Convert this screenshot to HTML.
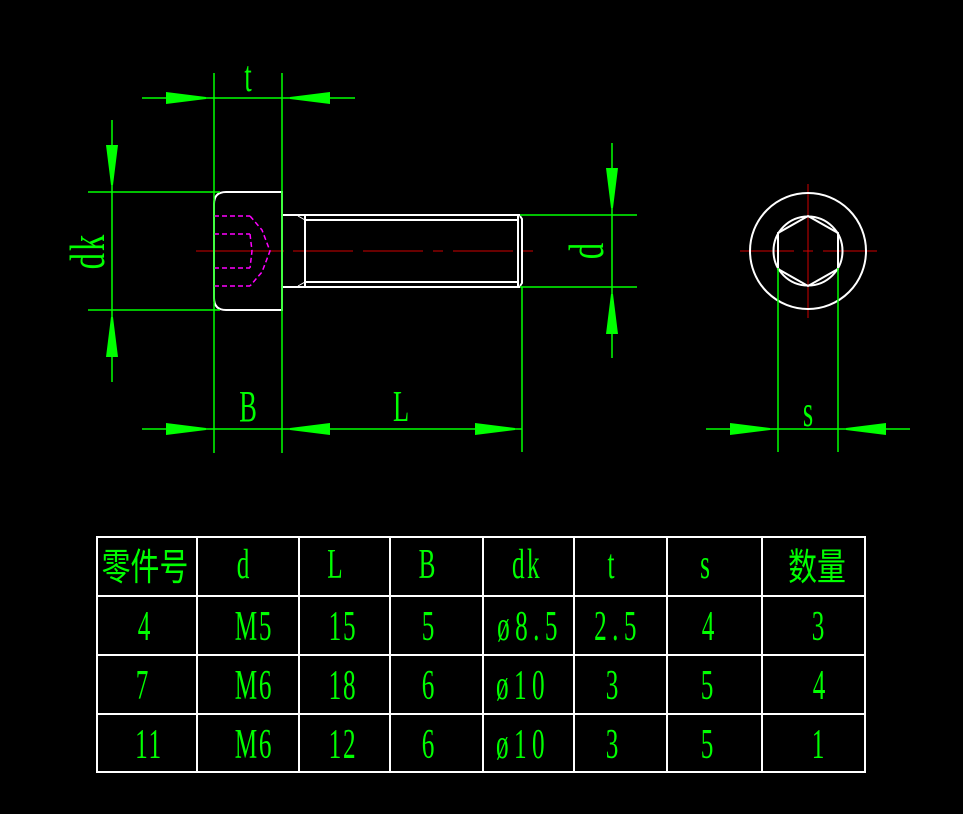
<!DOCTYPE html>
<html><head><meta charset="utf-8"><style>
html,body{margin:0;padding:0;background:#000;}
svg{display:block}
text{font-family:"Liberation Serif","Noto Serif CJK SC",serif;fill:#00ff00;}
.c{font-family:"Liberation Serif","Noto Sans CJK SC",sans-serif;}
</style></head><body>
<svg width="963" height="814" viewBox="0 0 963 814" xmlns="http://www.w3.org/2000/svg">
<rect width="963" height="814" fill="#000"/>
<g stroke="#d00000" stroke-width="1">
<line x1="196" y1="251" x2="284" y2="251"/>
<line x1="293" y1="251" x2="354" y2="251" stroke-dasharray="60 10 10 10"/>
<line x1="363" y1="251" x2="540" y2="251" stroke-dasharray="60 10 10 10"/>
<line x1="808" y1="184" x2="808" y2="318"/>
<line x1="740" y1="251" x2="794" y2="251"/>
<line x1="823" y1="251" x2="877" y2="251"/>
<line x1="803" y1="251" x2="813" y2="251"/>
</g>
<g stroke="#fff" stroke-width="2" fill="none">
<path d="M282 192 H226 Q214 192 214 204 V298 Q214 310 226 310 H282 Z"/>
<path d="M282 215 H520 M282 287 H520"/>
<path d="M305 220 H518 M305 282 H518"/>
<line x1="305" y1="216" x2="305" y2="286"/>
<line x1="518" y1="216" x2="518" y2="286"/>
<path d="M520 216 L522 219 V283 L520 286"/>
<path d="M298 216 L305 220 M298 286 L305 282" stroke-width="1"/>
<circle cx="808" cy="251" r="58"/>
<circle cx="808" cy="251" r="34.5"/>
<polygon points="808,216 838,233 838,269 808,286 778,269 778,233"/>
</g>
<g stroke="#ff00ff" stroke-width="1.5" fill="none" stroke-dasharray="5 3">
<path d="M214 216 H250 M214 234 H250 M214 268 H250 M214 286 H250"/>
<path d="M250 216 L262 230 L270 251 L262 272 L250 286"/>
<path d="M250 234 L252 251 L250 268"/>
</g>
<g stroke="#00ff00" stroke-width="1.5">
<line x1="142" y1="98" x2="355" y2="98"/>
<line x1="214" y1="73" x2="214" y2="453"/>
<line x1="282" y1="73" x2="282" y2="453"/>
<line x1="112" y1="120" x2="112" y2="382"/>
<line x1="88" y1="192" x2="220" y2="192"/>
<line x1="88" y1="310" x2="220" y2="310"/>
<line x1="612" y1="143" x2="612" y2="358"/>
<line x1="520" y1="215" x2="637" y2="215"/>
<line x1="520" y1="287" x2="637" y2="287"/>
<line x1="142" y1="429" x2="522" y2="429"/>
<line x1="522" y1="287" x2="522" y2="452"/>
<line x1="706" y1="429" x2="910" y2="429"/>
<line x1="778" y1="268" x2="778" y2="452"/>
<line x1="838" y1="268" x2="838" y2="452"/>
</g>
<g fill="#00ff00">
<polygon points="166,92 206,97 206,99 166,104"/>
<polygon points="330,92 290,97 290,99 330,104"/>
<polygon points="106,145 111,185 113,185 118,145"/>
<polygon points="106,357 111,317 113,317 118,357"/>
<polygon points="606,168 611,208 613,208 618,168"/>
<polygon points="606,334 611,294 613,294 618,334"/>
<polygon points="166,423 206,428 206,430 166,435"/>
<polygon points="330,423 290,428 290,430 330,435"/>
<polygon points="475,423 515,428 515,430 475,435"/>
<polygon points="730,423 770,428 770,430 730,435"/>
<polygon points="886,423 846,428 846,430 886,435"/>
</g>
<g font-size="44" text-anchor="middle">
<text transform="translate(248,91) scale(0.6,1)">t</text>
<text transform="translate(248,421) scale(0.6,1)">B</text>
<text transform="translate(401,421) scale(0.6,1)">L</text>
<text transform="translate(808,426) scale(0.6,1)">s</text>
<text font-size="50" letter-spacing="3" transform="translate(104,251) rotate(-90) scale(0.65,1)">dk</text>
<text font-size="50" transform="translate(603,251) rotate(-90) scale(0.65,1)">d</text>
</g>
<g stroke="#fff" stroke-width="2" fill="none">
<rect x="97" y="537" width="768" height="235"/>
<path d="M97 596 H865 M97 655 H865 M97 714 H865"/>
<path d="M197 537 V772 M299 537 V772 M390 537 V772 M483 537 V772 M574 537 V772 M667 537 V772 M762 537 V772"/>
</g>
<g font-size="42" text-anchor="middle">
<text class="c" font-size="34" transform="translate(145,580) scale(0.85,1.1)">零件号</text>
<text class="c" font-size="34" transform="translate(817,580) scale(0.85,1.1)">数量</text>
<text transform="translate(243,578) scale(0.6,1)">d</text>
<text transform="translate(335,578) scale(0.6,1)">L</text>
<text transform="translate(427,578) scale(0.6,1)">B</text>
<text letter-spacing="4" transform="translate(527,578) scale(0.6,1)">dk</text>
<text transform="translate(611,578) scale(0.6,1)">t</text>
<text transform="translate(705,578) scale(0.6,1)">s</text>

<text transform="translate(144,640) scale(0.6,1)">4</text>
<text letter-spacing="3" transform="translate(254,640) scale(0.6,1)">M5</text>
<text letter-spacing="3" transform="translate(343,640) scale(0.6,1)">15</text>
<text transform="translate(428,640) scale(0.6,1)">5</text>
<text letter-spacing="9" transform="translate(530,640) scale(0.6,1)">ø8.5</text>
<text letter-spacing="9" transform="translate(618,640) scale(0.6,1)">2.5</text>
<text transform="translate(708,640) scale(0.6,1)">4</text>
<text transform="translate(818,640) scale(0.6,1)">3</text>

<text transform="translate(142,699) scale(0.6,1)">7</text>
<text letter-spacing="3" transform="translate(254,699) scale(0.6,1)">M6</text>
<text letter-spacing="3" transform="translate(343,699) scale(0.6,1)">18</text>
<text transform="translate(428,699) scale(0.6,1)">6</text>
<text letter-spacing="9" transform="translate(523,699) scale(0.6,1)">ø10</text>
<text transform="translate(612,699) scale(0.6,1)">3</text>
<text transform="translate(707,699) scale(0.6,1)">5</text>
<text transform="translate(819,699) scale(0.6,1)">4</text>

<text letter-spacing="3" transform="translate(149,758) scale(0.6,1)">11</text>
<text letter-spacing="3" transform="translate(254,758) scale(0.6,1)">M6</text>
<text letter-spacing="3" transform="translate(343,758) scale(0.6,1)">12</text>
<text transform="translate(428,758) scale(0.6,1)">6</text>
<text letter-spacing="9" transform="translate(523,758) scale(0.6,1)">ø10</text>
<text transform="translate(612,758) scale(0.6,1)">3</text>
<text transform="translate(707,758) scale(0.6,1)">5</text>
<text transform="translate(818,758) scale(0.6,1)">1</text>
</g>
</svg>
</body></html>
